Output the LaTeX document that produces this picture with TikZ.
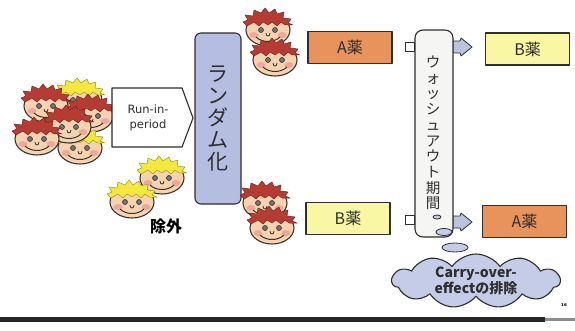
\documentclass[tikz,border=0pt]{standalone}
\usepackage{fontspec}
\setmainfont{DejaVu Sans}
\newfontfamily\jp{Noto Sans CJK JP}
\usetikzlibrary{shapes.symbols}

\definecolor{facefill}{HTML}{F5D3B0}
\definecolor{faceline}{HTML}{3A3330}
\definecolor{cheek}{HTML}{EFA79C}
\definecolor{redhair}{HTML}{B63C33}
\definecolor{yellowhair}{HTML}{F3E83E}
\definecolor{randfill}{HTML}{B5BEE0}
\definecolor{drugA}{HTML}{E8935C}
\definecolor{drugB}{HTML}{FAF7A4}
\definecolor{scrollfill}{HTML}{F5F5F3}
\definecolor{tipfill}{HTML}{B9C4DD}
\definecolor{cloudfill}{HTML}{C4CCE8}
\definecolor{ink}{HTML}{2E2E2E}

\tikzset{
  % a smiling child's head; the argument is the hair colour
  kid/.pic={
    \filldraw[fill=facefill, draw=faceline, line width=1.1pt] (0,0) ellipse [x radius=22, y radius=16];
    \filldraw[fill=#1, draw=#1!65!black, line width=0.5pt]
      (-21,-4) -- (-25,-8) -- (-20,-10) -- (-23,-15) -- (-15,-14) -- (-14,-20) -- (-7,-17)
      -- (-3,-22) -- (1,-17) -- (7,-21) -- (9,-16) -- (16,-18) -- (15,-12) -- (23,-11)
      -- (20,-7) -- (25,-5) -- (17,-5) -- (13,-8) -- (9,-4) -- (4,-8) -- (0,-5) -- (-5,-8)
      -- (-9,-4) -- (-14,-8) -- cycle;
    \fill[cheek] (-14,5) ellipse [x radius=4.5, y radius=3];
    \fill[cheek] (14,5) ellipse [x radius=4.5, y radius=3];
    \filldraw[fill=black!55, draw=faceline, line width=0.6pt] (-7,0) circle (2.5);
    \filldraw[fill=black!55, draw=faceline, line width=0.6pt] (7,0) circle (2.5);
    \draw[faceline, line width=0.8pt] (-2,3) .. controls (-2,7) and (2,7) .. (2,3);
    \draw[faceline, line width=1pt] (-12,7) .. controls (-6,13) and (6,13) .. (12,7);
  },
  drugbox/.style={draw=ink, line width=1.1pt, minimum width=84, minimum height=32,
    font=\jp\fontsize{16}{16}\selectfont, text=ink},
  sidesq/.style={draw=ink, fill=white, line width=0.8pt, minimum size=9, inner sep=0pt},
  tipshape/.style={draw=ink, fill=tipfill, line width=0.8pt},
  bubble/.style={draw=ink, fill=cloudfill, line width=0.8pt},
}

\begin{document}
\begin{tikzpicture}[x=1pt, y=-1pt, line join=round]
\useasboundingbox (0,0) rectangle (575,331);
\fill[white] (0,0) rectangle (575,331);

% slide bottom edge
\fill[black!85] (0,317) rectangle (545,322);
\fill[black!45] (545,318) rectangle (575,321);
\node (pageno) at (564,305) {\fontsize{4}{4}\selectfont\bfseries 16};

% group of participants before the run-in period
\pic at (80,100) {kid=yellowhair};
\pic at (46,106) {kid=redhair};
\pic at (91,116) {kid=redhair};
\pic at (80,148) {kid=yellowhair};
\pic at (69,127) {kid=redhair};
\pic at (37,139) {kid=redhair};

% excluded participants
\pic at (162,178) {kid=yellowhair};
\pic at (132,202) {kid=yellowhair};
\node (excl) at (166,226) {\jp\bfseries\fontsize{16}{16}\selectfont 除外};

% run-in period arrow
\filldraw[fill=white, draw=ink, line width=1.1pt]
  (112,88) -- (182,88) -- (193,118) -- (182,147) -- (112,147) -- cycle;
\node[align=center, font=\fontsize{11.5}{15}\selectfont, text=ink] (runin) at (148,118) {Run-in-\\period};

% randomisation
\node[draw=ink, fill=randfill, line width=1.1pt, rounded corners=6,
      minimum width=46, minimum height=171] (rand) at (218,118.5) {};
\node[align=center, font=\jp\fontsize{21}{22.2}\selectfont, text=ink] (randtxt) at (rand)
  {ラ\\ン\\ダ\\ム\\化};

% assigned groups
\pic at (268,30) {kid=redhair};
\pic at (275,60) {kid=redhair};
\pic at (265,203) {kid=redhair};
\pic at (272,228) {kid=redhair};

% first-period treatments
\node[drugbox, fill=drugA] (a1) at (350,47.5) {A薬};
\node[drugbox, fill=drugB] (b1) at (348,218.5) {B薬};

% wash-out period
\node[sidesq] (sqa) at (410,47) {};
\node[sidesq] (sqb) at (410,220) {};
\filldraw[tipshape] (453,41) -- (460,41) -- (461,38) -- (472,47) -- (461,56) -- (460,53) -- (453,53) -- cycle;
\filldraw[tipshape] (453,216) -- (460,216) -- (461,213) -- (472,222) -- (461,231) -- (460,228) -- (453,228) -- cycle;
\node[draw=ink, fill=scrollfill, line width=1.1pt, rounded corners=8,
      minimum width=38, minimum height=207] (wash) at (434,133.5) {};
\node[align=center, font=\jp\fontsize{14.5}{15.7}\selectfont, text=ink] (washtxt) at (433,133)
  {ウ\\ォ\\ッ\\シ\\ュ\\ア\\ウ\\ト\\期\\間};

% second-period treatments
\node[drugbox, fill=drugB] (b2) at (527.5,49) {B薬};
\node[drugbox, fill=drugA] (a2) at (524.5,221.5) {A薬};

% thought bubbles and carry-over cloud
\filldraw[bubble] (437,217) ellipse [x radius=4, y radius=2];
\filldraw[bubble] (444,232) ellipse [x radius=8, y radius=3.5];
\filldraw[bubble] (455,247.5) ellipse [x radius=13, y radius=4.5];
\node[cloud, cloud puffs=11, cloud puff arc=110, aspect=3.2, draw=ink, fill=cloudfill,
      line width=1.1pt, minimum width=168, minimum height=54] (cloud) at (476,281) {};
\node[align=center, font=\jp\bfseries\fontsize{14}{16}\selectfont, text=ink] (cloudtxt) at (476,281)
  {Carry-over-\\effectの排除};
\end{tikzpicture}
\end{document}
